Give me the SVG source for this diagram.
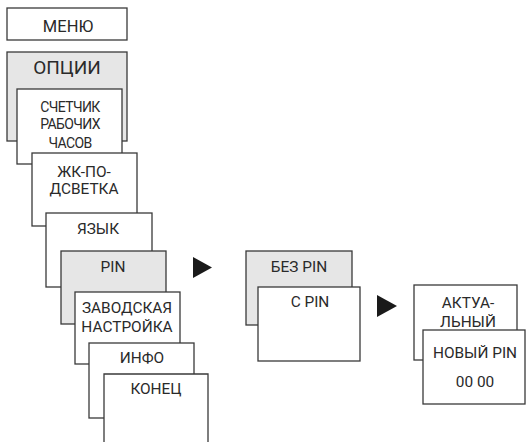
<svg xmlns="http://www.w3.org/2000/svg" width="526" height="445" viewBox="0 0 526 445">
<style>
.b{fill:#fff;stroke:#3a3a3a;stroke-width:1.3}
.g{fill:#e6e6e6;stroke:#3a3a3a;stroke-width:1.3}
text{font-family:Roboto,"Liberation Sans",sans-serif;font-size:15.4px;fill:#2a2a2a;text-anchor:middle}
.c{font-size:14px;letter-spacing:-0.6px}
.arr{fill:#1a1a1a}
</style>
<g id="menu"><rect class="b" x="7" y="8" width="120" height="32"/><text x="68" y="32" style="font-size:16.5px">МЕНЮ</text></g>
<g id="options"><rect class="g" x="7" y="52" width="120" height="89"/><text x="67" y="74" style="font-size:19px">ОПЦИИ</text></g>
<g id="counter"><rect class="b" x="17" y="89" width="105" height="75"/><text class="c" x="70" y="112">СЧЕТЧИК</text><text class="c" x="70" y="129">РАБОЧИХ</text><text class="c" x="70" y="148">ЧАСОВ</text></g>
<g id="backlight"><rect class="b" x="32" y="153" width="105" height="73"/><text x="84" y="177">ЖК-ПО-</text><text x="84" y="194">ДСВЕТКА</text></g>
<g id="language"><rect class="b" x="46" y="213" width="106" height="74"/><text x="98" y="234">ЯЗЫК</text></g>
<g id="pin"><rect class="g" x="61" y="251" width="105" height="73"/><text x="113" y="272">PIN</text></g>
<g id="factory"><rect class="b" x="75" y="292" width="105" height="72"/><text x="127" y="313">ЗАВОДСКАЯ</text><text x="127" y="332">НАСТРОЙКА</text></g>
<g id="info"><rect class="b" x="89" y="343" width="105" height="75"/><text x="142" y="363">ИНФО</text></g>
<g id="end"><path d="M104,442 V374 H208 V442" fill="#fff" stroke="#3a3a3a" stroke-width="1.3"/><text x="156" y="394">КОНЕЦ</text></g>
<g id="nopin"><rect class="g" x="246" y="251" width="106" height="74"/><text x="299" y="272">БЕЗ PIN</text></g>
<g id="withpin"><rect class="b" x="258" y="287" width="102" height="74"/><text x="310" y="307">С PIN</text></g>
<g id="current"><rect class="b" x="414" y="285" width="103" height="75"/><text x="468" y="308">АКТУА-</text><text x="468" y="327">ЛЬНЫЙ</text></g>
<g id="newpin"><rect class="b" x="423" y="330" width="102" height="74"/><text x="475" y="358">НОВЫЙ PIN</text><text x="475" y="387">00 00</text></g>
<g id="connectors">
<polygon class="arr" points="193,257 193,278 212,267.5"/>
<polygon class="arr" points="377,295 377,317 397,306"/>
</g>
</svg>
